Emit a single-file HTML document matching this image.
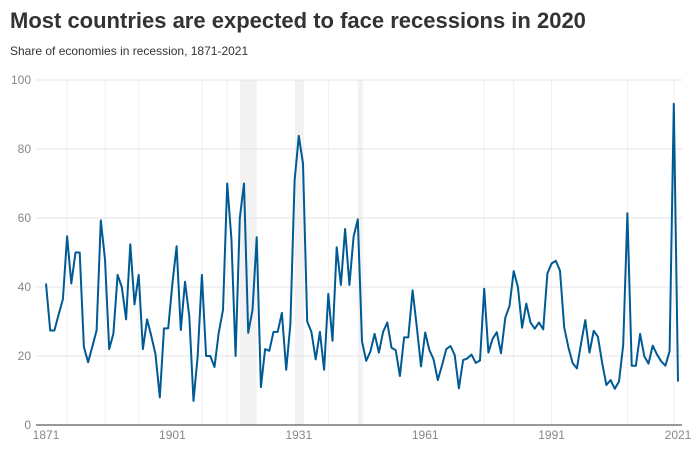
<!DOCTYPE html>
<html><head><meta charset="utf-8"><style>
body{margin:0;background:#fff;font-family:"Liberation Sans",sans-serif;}
svg{display:block}
</style></head><body>
<svg width="696" height="454">
<text x="10" y="28" font-size="22" font-weight="bold" fill="#333">Most countries are expected to face recessions in 2020</text>
<text x="10" y="55" font-size="12" fill="#333">Share of economies in recession, 1871-2021</text>
<g id="plot"></g>
</svg>
<script>
const years=[];for(let y=1871;y<=2021;y++)years.push(y);
const shares=[41,27.4,27.4,32,36.5,54.7,41,50,50,22.6,18.2,22.7,27.4,59.3,48,22,26.5,43.5,40,30.6,52.4,35,43.5,22,30.6,25.8,20.5,8,28,28,
41,51.8,27.5,41.5,31.5,7,20,43.5,20,20,16.8,26.7,33.4,70,54,20,60,70,26.7,33.3,54.4,11,22,21.5,27,27,32.5,16,29.3,70.9,
83.8,75.8,30,27,19,27,16,38,24.4,51.5,40.6,56.8,40.6,54.6,59.6,24.2,18.6,21.3,26.4,21,27,29.7,22.4,21.7,14.2,25.4,25.4,39,28.5,17,
26.8,21.7,19,13,17.4,22,22.9,20.3,10.6,18.8,19.3,20.4,18,18.7,39.5,21,25,26.9,20.8,31.1,34.5,44.6,40,28.2,35.2,29.7,27.9,29.7,27.7,43.9,
46.8,47.6,44.7,28.3,22.4,17.9,16.4,23.7,30.4,21,27.3,25.6,17.9,11.6,13,10.5,12.6,23.2,61.4,17.2,17.2,26.4,19.9,17.8,23,20.5,18.5,17.2,21.4,93.1,12.6];
const yTicks=[0,20,40,60,80,100];
const xTicks=[1871,1901,1931,1961,1991,2021];
const gridYears=[1876,1885,1893,1908,1914,1938,1975,1982,1991,2009,2020];
const bands=[[1917,1921],[1930.1,1932.2],[1945,1946.2]];
const X=y=>46+(y-1871)*(632/150);
const Y=v=>425-v*3.45;
const ns='http://www.w3.org/2000/svg';
const g=document.getElementById('plot');
function mk(t,a){const e=document.createElementNS(ns,t);for(const k in a)e.setAttribute(k,a[k]);g.appendChild(e);return e;}
bands.forEach(b=>{const e=mk('rect',{x:X(b[0]),y:Y(100),width:X(b[1])-X(b[0]),height:Y(0)-Y(100),fill:'#f2f2f2'});

});
gridYears.forEach(y=>{const e=mk('line',{x1:X(y),x2:X(y),y1:Y(100),y2:Y(0),stroke:'#f0f0f0','stroke-width':1});

});
yTicks.forEach(v=>{
if(v>0){const l=mk('line',{x1:36,x2:682,y1:Y(v),y2:Y(v),stroke:'#e3e3e3','stroke-width':1});

}
const t=mk('text',{x:31,y:Y(v)+4,'font-size':12,fill:'#888','text-anchor':'end'});t.textContent=v;

});
const ax=mk('line',{x1:36,x2:682,y1:Y(0),y2:Y(0),stroke:'#333','stroke-width':1});


xTicks.forEach(y=>{const t=mk('text',{x:X(y),y:439,'font-size':12,fill:'#888','text-anchor':'middle'});t.textContent=y;

});
const p=mk('path',{d:shares.map((v,i)=>(i?'L':'M')+X(years[i]).toFixed(1)+','+Y(v).toFixed(1)).join(''),fill:'none',stroke:'#005a94','stroke-width':2,'stroke-linejoin':'round'});


</script>
</body></html>
